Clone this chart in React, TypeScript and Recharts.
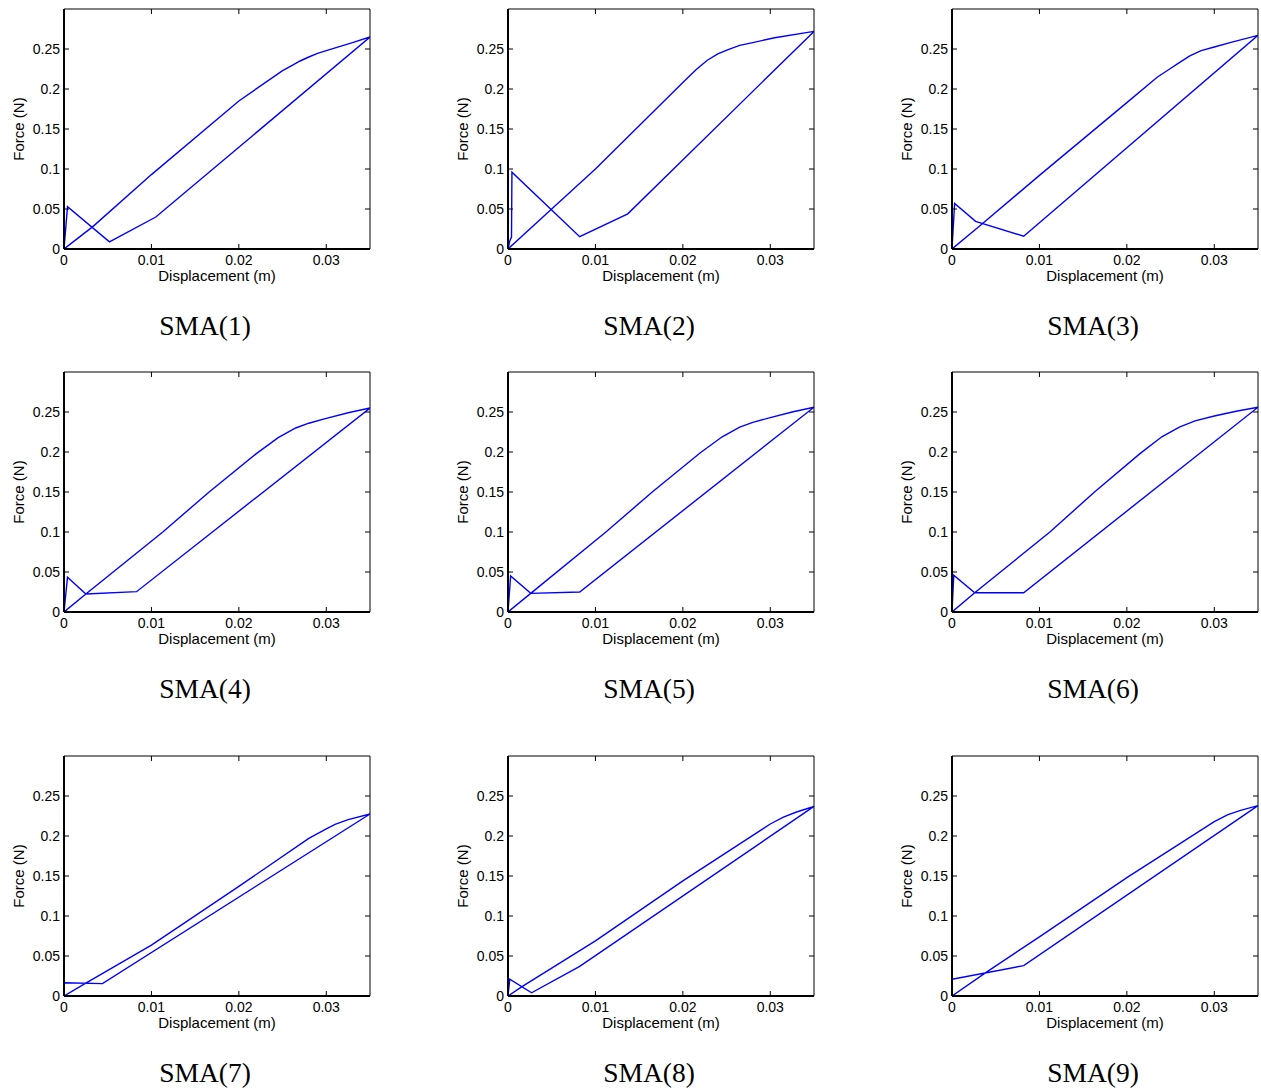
import { Line, LineChart, XAxis, YAxis } from "recharts";

// displacement (m) ticks and force (N) ticks shared by all nine panels
const xTicks = [0, 0.01, 0.02, 0.03];
const yTicks = [0, 0.05, 0.1, 0.15, 0.2, 0.25];

const titles = ["SMA(1)", "SMA(2)", "SMA(3)", "SMA(4)", "SMA(5)", "SMA(6)", "SMA(7)", "SMA(8)", "SMA(9)"];

// [displacement, force] in drawing order: loading up to the tip, then unloading back
const sma1 = [[0, 0], [0.0033, 0.028], [0.01, 0.093], [0.02, 0.185], [0.025, 0.223], [0.026, 0.229], [0.027, 0.235], [0.028, 0.24], [0.029, 0.2445], [0.03, 0.248], [0.0315, 0.253], [0.033, 0.258], [0.035, 0.265], [0.0105, 0.04], [0.0052, 0.009], [0.0004, 0.053], [0, 0]];
const sma2 = [[0, 0], [0.0049, 0.049], [0.01, 0.1], [0.02, 0.208], [0.0215, 0.224], [0.0228, 0.236], [0.024, 0.244], [0.0251, 0.249], [0.0265, 0.2545], [0.028, 0.258], [0.0305, 0.264], [0.035, 0.272], [0.0137, 0.044], [0.0082, 0.0154], [0.00045, 0.096], [0.0004, 0.015], [0.0002, 0.01], [0, 0]];
const sma3 = [[0, 0], [0.0034, 0.031], [0.01, 0.092], [0.02, 0.183], [0.0235, 0.215], [0.0249, 0.225], [0.026, 0.233], [0.0272, 0.2415], [0.0285, 0.248], [0.03, 0.2525], [0.0318, 0.258], [0.035, 0.267], [0.0082, 0.016], [0.0027, 0.0346], [0.0003, 0.057], [0, 0]];
const sma4 = [[0, 0], [0.0025, 0.0225], [0.0113, 0.1], [0.0166, 0.15], [0.022, 0.198], [0.0245, 0.218], [0.0265, 0.23], [0.028, 0.236], [0.03, 0.242], [0.0325, 0.249], [0.035, 0.255], [0.0083, 0.0254], [0.0025, 0.0225], [0.0004, 0.0434], [0, 0]];
const sma5 = [[0, 0], [0.0026, 0.0233], [0.0112, 0.1], [0.0165, 0.15], [0.022, 0.199], [0.0245, 0.219], [0.0265, 0.231], [0.028, 0.237], [0.03, 0.243], [0.0325, 0.25], [0.035, 0.256], [0.0082, 0.025], [0.0026, 0.0233], [0.0003, 0.045], [0, 0]];
const sma6 = [[0, 0], [0.0026, 0.024], [0.0112, 0.1], [0.0163, 0.15], [0.0215, 0.198], [0.024, 0.219], [0.026, 0.231], [0.0278, 0.239], [0.03, 0.245], [0.0325, 0.251], [0.035, 0.256], [0.0082, 0.024], [0.0026, 0.024], [0.0002, 0.046], [0, 0]];
const sma7 = [[0, 0], [0.0024, 0.0155], [0.01, 0.0635], [0.02, 0.137], [0.028, 0.197], [0.03, 0.209], [0.031, 0.2145], [0.0325, 0.2205], [0.035, 0.2275], [0.0044, 0.0155], [0, 0.0165], [0, 0]];
const sma8 = [[0, 0], [0.0016, 0.0117], [0.01, 0.069], [0.02, 0.144], [0.03, 0.215], [0.0315, 0.2235], [0.033, 0.23], [0.035, 0.237], [0.0082, 0.037], [0.0027, 0.004], [0.0002, 0.021], [0, 0]];
const sma9 = [[0, 0], [0.0039, 0.0296], [0.01, 0.074], [0.02, 0.148], [0.03, 0.218], [0.0315, 0.2265], [0.033, 0.232], [0.035, 0.238], [0.0082, 0.038], [0, 0.021], [0, 0]];

const loops = [sma1, sma2, sma3, sma4, sma5, sma6, sma7, sma8, sma9];

const font = "'Liberation Sans', Arial, sans-serif";
const rowTops = [0, 363, 747];

const BottomTick = (props: any) => {
  const { x, y, payload } = props;
  return (
    <g>
      <line x1={x} x2={x} y1={y} y2={y - 5} stroke="#000" />
      <text x={x} y={y + 16} textAnchor="middle" fontSize={14} fontFamily={font} fill="#000">
        {String(payload.value)}
      </text>
    </g>
  );
};

const LeftTick = (props: any) => {
  const { x, y, payload } = props;
  return (
    <g>
      <line x1={x} x2={x + 5} y1={y} y2={y} stroke="#000" />
      <text x={x - 4} y={y + 5} textAnchor="end" fontSize={14} fontFamily={font} fill="#000">
        {String(payload.value)}
      </text>
    </g>
  );
};

const TopTick = (props: any) => {
  const { x, y } = props;
  return <line x1={x} x2={x} y1={y} y2={y + 5} stroke="#000" />;
};

const RightTick = (props: any) => {
  const { x, y } = props;
  return <line x1={x} x2={x - 5} y1={y} y2={y} stroke="#000" />;
};

function Panel({ points, title, left, top }: { points: number[][]; title: string; left: number; top: number }) {
  const data = points.map(([x, y]) => ({ x, y }));
  return (
    <>
      <div style={{ position: "absolute", left, top }}>
        <LineChart width={373} height={290} data={data} margin={{ top: 8, right: 2, left: 0, bottom: 0 }}>
          <XAxis
            type="number"
            dataKey="x"
            domain={[0, 0.035]}
            allowDataOverflow
            ticks={xTicks}
            interval={0}
            height={41}
            tickSize={0}
            tickMargin={0}
            tick={BottomTick}
            axisLine={{ stroke: "#000", strokeWidth: 2 }}
            label={{
              content: (p: any) => {
                const vb = p.viewBox;
                return (
                  <text x={vb.x + vb.width / 2} y={vb.y + 32} textAnchor="middle" fontSize={15} fontFamily={font} fill="#000">
                    Displacement (m)
                  </text>
                );
              },
            }}
          />
          <XAxis
            xAxisId="top"
            orientation="top"
            type="number"
            dataKey="x"
            domain={[0, 0.035]}
            allowDataOverflow
            ticks={xTicks}
            interval={0}
            height={1}
            tickSize={0}
            tickMargin={0}
            tick={TopTick}
            axisLine={{ stroke: "#000", strokeWidth: 1 }}
          />
          <YAxis
            type="number"
            domain={[0, 0.3]}
            allowDataOverflow
            ticks={yTicks}
            interval={0}
            width={64}
            tickSize={0}
            tickMargin={0}
            tick={LeftTick}
            axisLine={{ stroke: "#000", strokeWidth: 2 }}
            label={{
              content: (p: any) => {
                const vb = p.viewBox;
                const cy = vb.y + vb.height / 2;
                return (
                  <text x={23.5} y={cy} transform={`rotate(-90 23.5 ${cy})`} textAnchor="middle" fontSize={15} fontFamily={font} fill="#000">
                    Force (N)
                  </text>
                );
              },
            }}
          />
          <YAxis
            yAxisId="right"
            orientation="right"
            type="number"
            domain={[0, 0.3]}
            allowDataOverflow
            ticks={yTicks}
            interval={0}
            width={1}
            tickSize={0}
            tickMargin={0}
            tick={RightTick}
            axisLine={{ stroke: "#000", strokeWidth: 1 }}
          />
          {/* invisible copy so the top/right box axes get drawn */}
          <Line xAxisId="top" yAxisId="right" type="linear" dataKey="y" stroke="none" dot={false} activeDot={false} isAnimationActive={false} />
          <Line type="linear" dataKey="y" stroke="#0000ff" strokeWidth={1.4} dot={false} isAnimationActive={false} />
        </LineChart>
      </div>
      <div
        style={{
          position: "absolute",
          left: left + 105,
          top: top + 311,
          width: 200,
          textAlign: "center",
          fontFamily: "'Liberation Serif', 'Times New Roman', serif",
          fontSize: 27.5,
          lineHeight: "30px",
        }}
      >
        {title}
      </div>
    </>
  );
}

export default function App() {
  return (
    <div style={{ position: "absolute", left: 0, top: 0, width: 1261, height: 1091, overflow: "hidden", background: "#fff" }}>
      {loops.map((pts, i) => (
        <Panel key={titles[i]} points={pts} title={titles[i]} left={(i % 3) * 444} top={rowTops[Math.floor(i / 3)]} />
      ))}
    </div>
  );
}
